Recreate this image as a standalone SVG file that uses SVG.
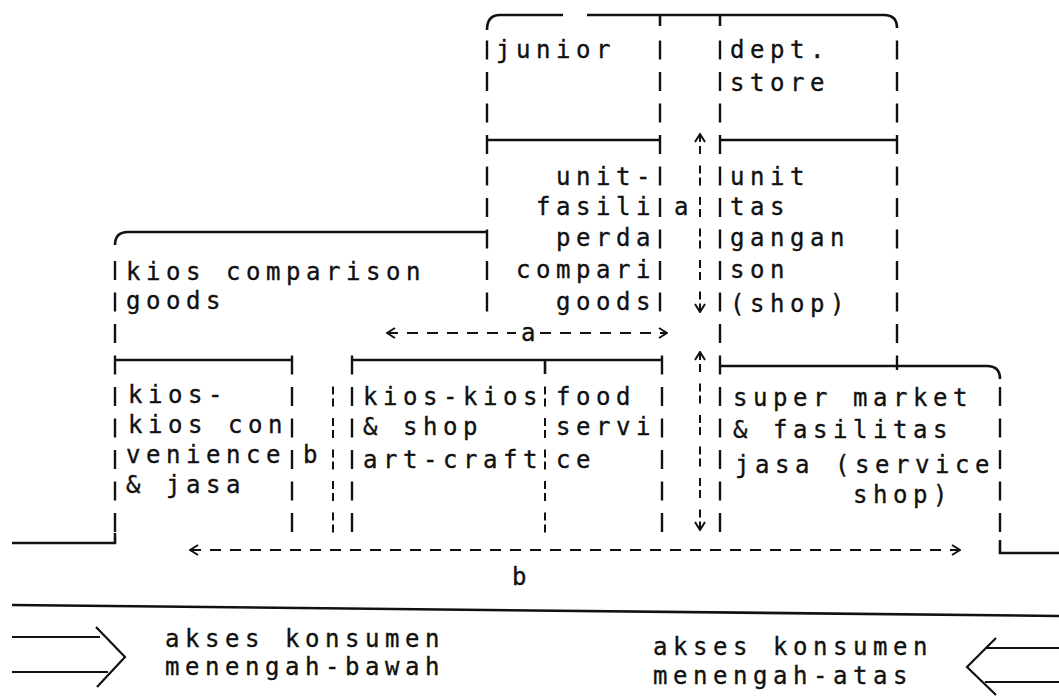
<svg xmlns="http://www.w3.org/2000/svg" width="1059" height="696" viewBox="0 0 1059 696">
<style>
.t{font-family:"DejaVu Sans Mono","Liberation Mono",monospace;font-size:24px;letter-spacing:5.55px;fill:#111;stroke:#111;stroke-width:0.35}
.s{stroke:#111;stroke-width:2.6;fill:none}
.bar{stroke:#111;stroke-width:2.4;fill:none;stroke-dasharray:19 12.5}
.brk{stroke:#111;stroke-width:2;fill:none;stroke-dasharray:8 4 8 11.5}
.hy{stroke:#111;stroke-width:2.2;fill:none;stroke-dasharray:11 9}
.ar{stroke:#111;stroke-width:2.2;fill:none;stroke-linejoin:miter}
</style>
<defs>
<marker id="chev" viewBox="0 0 10 12" refX="9" refY="6" markerWidth="10" markerHeight="12" markerUnits="userSpaceOnUse" orient="auto-start-reverse">
<path d="M1,1 L9,6 L1,11" fill="none" stroke="#111" stroke-width="2"/>
</marker>
</defs>
<rect width="1059" height="696" fill="#fff"/>

<g id="junior">
<path class="s" d="M487,30 Q487,15 500,15 H563"/>
<path class="s" d="M587,15 H884 Q897,15 897,28"/>
<path class="s" d="M660,15 V26"/>
<path class="bar" d="M487,40.5 V312"/>
<path class="bar" d="M660,40.5 V312"/>
<path class="s" d="M487,140 H660"/>
<text class="t" x="496" y="58">junior</text>
</g>

<g id="dept-store">
<path class="s" d="M720,15 V26"/>
<path class="bar" d="M897,40.5 V370"/>
<path class="s" d="M720,140 H897"/>
<text class="t" x="730" y="58">dept.</text>
<text class="t" x="730" y="91">store</text>
</g>

<g id="unit-fasilitas-perdagangan-comparison">
<text class="t" x="556" y="185">unit-</text>
<text class="t" x="536" y="215">fasili</text>
<text class="t" x="556" y="246">perda</text>
<text class="t" x="516" y="278">compari</text>
<text class="t" x="556" y="310">goods</text>
<text class="t" x="730" y="185">unit</text>
<text class="t" x="730" y="215">tas</text>
<text class="t" x="730" y="246">gangan</text>
<text class="t" x="730" y="278">son</text>
<text class="t" x="730" y="312">(shop)</text>
<text class="t" x="674" y="215">a</text>
</g>

<g id="kios-comparison">
<path class="s" d="M487,232 H128 Q115,232 115,245"/>
<path class="bar" d="M115,261 V533"/>
<path class="s" d="M115,533 V543 H12"/>
<text class="t" x="126" y="280">kios comparison</text>
<text class="t" x="126" y="309">goods</text>
</g>

<g id="kios-convenience">
<path class="s" d="M115,360 H292"/>
<path class="bar" d="M292,355.5 V533"/>
<text class="t" x="128" y="403">kios-</text>
<text class="t" x="128" y="433">kios con</text>
<text class="t" x="126" y="463">venience</text>
<text class="t" x="126" y="493">&amp; jasa</text>
<text class="t" x="303" y="463">b</text>
</g>

<g id="kios-artcraft">
<path class="brk" d="M333,386.5 V533"/>
<path class="s" d="M352,360 H662"/>
<path class="bar" d="M352,355.5 V533"/>
<text class="t" x="363" y="405">kios-kios</text>
<text class="t" x="363" y="435">&amp; shop</text>
<text class="t" x="363" y="468">art-craft</text>
</g>

<g id="food-service">
<path class="s" d="M545,360 V374"/>
<path class="brk" d="M545,386.5 V533"/>
<path class="bar" d="M662,355.5 V533"/>
<text class="t" x="556" y="405">food</text>
<text class="t" x="556" y="435">servi</text>
<text class="t" x="556" y="468">ce</text>
</g>

<g id="supermarket">
<path class="bar" d="M720,40.5 V533"/>
<path class="s" d="M720,366 H987 Q1000,366 1000,379"/>
<path class="bar" d="M1000,387 V533"/>
<path class="s" d="M1000,540 V553 H1059"/>
<text class="t" x="733" y="406">super market</text>
<text class="t" x="733" y="438">&amp; fasilitas</text>
<text class="t" x="735" y="473">jasa (service</text>
<text class="t" x="853" y="503">shop)</text>
</g>

<g id="street">
<path class="s" d="M12,605 L1059,616"/>
</g>

<g id="access-lower-middle">
<path class="ar" d="M12,637 H100 M12,672 H108 M96,627 L125,657 L97,687"/>
<text class="t" x="165" y="647">akses konsumen</text>
<text class="t" x="165" y="675">menengah-bawah</text>
</g>

<g id="access-upper-middle">
<path class="ar" d="M1059,648 H985 M1059,682 H985 M996,638 L967,667 L996,695"/>
<text class="t" x="653" y="655">akses konsumen</text>
<text class="t" x="653" y="684">menengah-atas</text>
</g>

<g id="connectors">
<path class="brk" d="M700,134 V312" marker-start="url(#chev)" marker-end="url(#chev)"/>
<path class="brk" d="M700,352 V530" marker-start="url(#chev)" marker-end="url(#chev)"/>
<path class="hy" d="M387,333 H516" marker-start="url(#chev)"/>
<path class="hy" d="M540,333 H667" marker-end="url(#chev)"/>
<text class="t" x="521" y="341">a</text>
<path class="hy" d="M190,550 H960" marker-start="url(#chev)" marker-end="url(#chev)"/>
<text class="t" x="512" y="585">b</text>
</g>
</svg>
